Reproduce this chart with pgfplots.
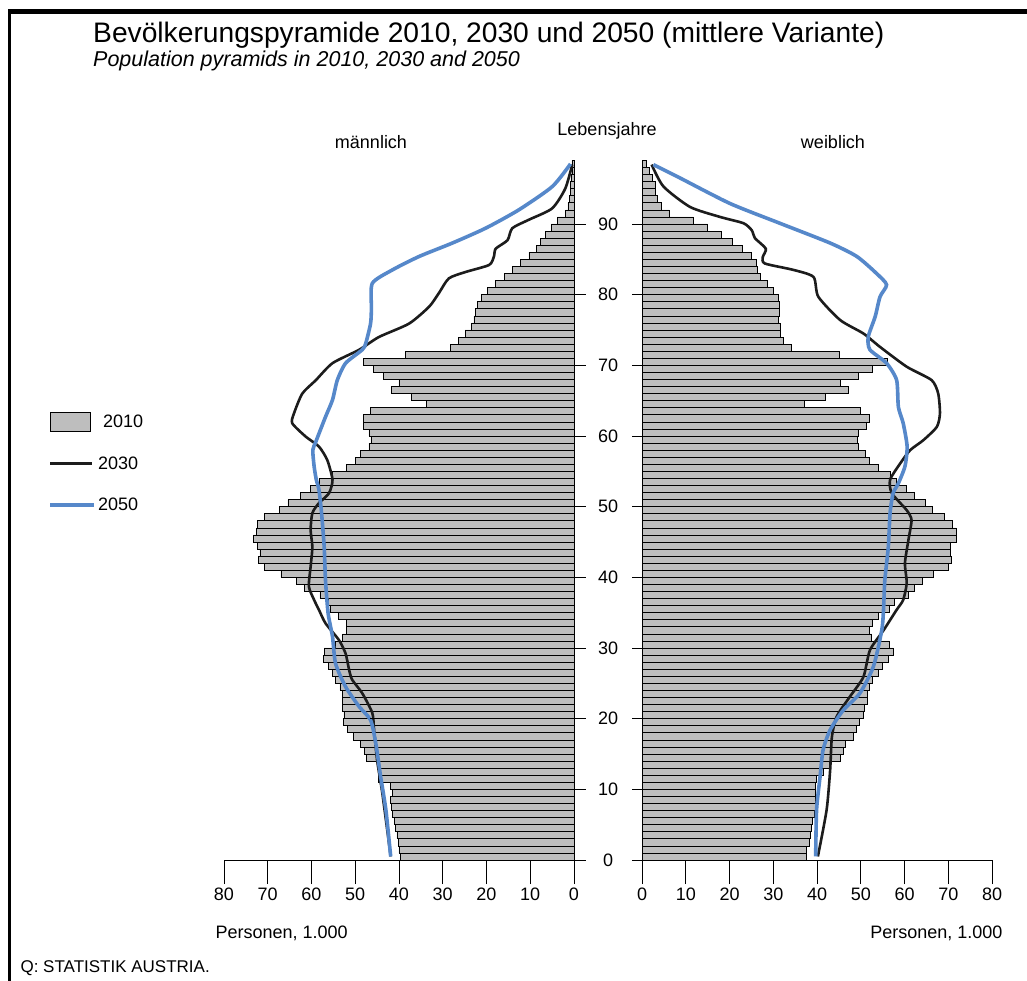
\documentclass[border=0pt]{standalone}
\usepackage{fontspec}
\setmainfont{Liberation Sans}
\usepackage{pgfplots}
\pgfplotsset{compat=1.18}
\usepackage{pgfplotstable}
\definecolor{barg}{RGB}{190,190,190}
\definecolor{lblue}{RGB}{86,136,202}
\definecolor{lblack}{RGB}{28,28,28}
\newcommand\lbl{\fontsize{18}{20}\selectfont}

\pgfplotstableread{
age m f
0.5 39.6 37.6
1.5 40.0 37.6
2.5 40.2 38.2
3.5 40.5 38.4
4.5 40.8 38.8
5.5 41.1 39.0
6.5 41.5 39.3
7.5 41.7 39.5
8.5 41.9 39.5
9.5 41.5 39.5
10.5 41.9 39.5
11.5 44.7 39.8
12.5 44.7 41.4
13.5 45.0 42.7
14.5 47.4 45.3
15.5 47.9 45.9
16.5 48.8 46.4
17.5 50.4 48.2
18.5 51.8 48.9
19.5 52.7 49.7
20.5 52.6 50.6
21.5 52.9 50.7
22.5 52.9 51.4
23.5 52.9 51.5
24.5 53.5 52.0
25.5 54.6 52.7
26.5 55.2 54.0
27.5 56.1 54.9
28.5 57.3 56.3
29.5 57.1 57.4
30.5 54.6 56.5
31.5 52.9 52.5
32.5 52.1 52.0
33.5 52.1 52.7
34.5 53.9 54.0
35.5 55.8 56.5
36.5 56.1 57.7
37.5 58.1 60.9
38.5 61.6 62.2
39.5 63.5 64.1
40.5 67.0 66.6
41.5 70.7 70.0
42.5 72.2 70.8
43.5 71.8 70.5
44.5 72.4 70.5
45.5 73.3 71.8
46.5 72.6 71.8
47.5 72.4 70.9
48.5 70.7 69.0
49.5 67.4 66.4
50.5 65.4 64.7
51.5 62.5 62.2
52.5 60.2 60.3
53.5 58.3 58.2
54.5 55.2 56.7
55.5 52.0 54.1
56.5 49.9 51.9
57.5 48.8 51.0
58.5 46.9 49.4
59.5 46.4 49.1
60.5 46.9 49.4
61.5 48.2 51.3
62.5 48.2 51.9
63.5 46.6 50.0
64.5 33.8 37.1
65.5 37.2 41.8
66.5 41.7 47.2
67.5 40.0 45.3
68.5 43.6 49.4
69.5 45.9 52.7
70.5 48.2 56.1
71.5 38.5 45.1
72.5 28.3 34.2
73.5 26.4 32.3
74.5 24.9 31.7
75.5 23.4 31.5
76.5 22.9 31.2
77.5 22.5 31.3
78.5 22.1 31.3
79.5 21.1 31.2
80.5 19.8 30.0
81.5 17.9 28.6
82.5 16.0 27.0
83.5 14.1 26.4
84.5 12.2 26.2
85.5 10.3 24.9
86.5 8.6 22.9
87.5 7.6 20.7
88.5 6.5 18.2
89.5 5.2 15.0
90.5 3.8 11.7
91.5 1.9 6.2
92.5 1.4 4.3
93.5 1.1 3.6
94.5 0.9 3.0
95.5 0.8 3.0
96.5 0.7 2.4
97.5 0.5 1.6
98.5 0.5 1.0
}\pyramid

\pgfplotsset{
  pyr/.style={
    scale only axis,
    height=706.7pt,
    ymin=0, ymax=100,
    xmax=80,
    axis x line*=bottom,
    axis y line=none,
    x axis line style={-, line width=0.8pt},
    xtick={0,10,...,80},
    tick align=outside,
    major tick length=24pt,
    xtick style={black, line width=0.8pt},
    ticklabel style={font=\lbl},
    /pgf/number format/assume math mode=true,
    clip=false,
  },
  bars/.style={xbar, bar width=1, bar shift=0pt, draw=black, line width=0.6pt, fill=barg},
  l30/.style={lblack, line width=2.6pt, smooth, tension=0.4},
  l50/.style={lblue, line width=3.6pt, smooth, tension=0.4},
}

\begin{document}
\begin{tikzpicture}[x=1pt,y=1pt]
\useasboundingbox (0,0) rectangle (1027,981);
\fill[white] (0,0) rectangle (1027,981);
\fill[black] (7.5,967) rectangle (1027,971.5);
\fill[black] (7.5,0) rectangle (11,971.5);

\node[anchor=base west, inner sep=0pt, font=\fontsize{28.2}{33}\selectfont] at (93,938) {Bevölkerungspyramide 2010, 2030 und 2050 (mittlere Variante)};
\node[anchor=base west, inner sep=0pt, font=\fontsize{21.5}{25}\selectfont\itshape] at (93,914) {Population pyramids in 2010, 2030 and 2050};
\node[anchor=base, font=\lbl] at (371,832) {männlich};
\node[anchor=base, font=\lbl] at (607,845) {Lebensjahre};
\node[anchor=base, font=\lbl] at (833,832) {weiblich};
\node[anchor=west, font=\lbl] at (212,48) {Personen, 1.000};
\node[anchor=east, font=\lbl] at (1006,48) {Personen, 1.000};
\node[anchor=west, font=\fontsize{17}{20}\selectfont] at (17,13) {Q: STATISTIK AUSTRIA.};

% male
\begin{axis}[pyr, at={(224pt,121pt)}, anchor=south west, width=360.9375pt,
  xmin=-2.5, x dir=reverse,
  legend style={at={(axis description cs:-0.487,0.634)}, anchor=north west,
    draw=none, fill=none, font=\lbl, row sep=23pt, inner sep=0pt,
    nodes={inner sep=2pt}},
  legend cell align=left]
\addplot[bars, legend image code/.code={\draw[draw=black,fill=barg,line width=0.7pt] (0pt,-9.5pt) rectangle (40pt,9.5pt);}]
  table[x=m, y=age] {\pyramid};
\addlegendentry{\hspace*{5pt}2010}
\addplot[l30, legend image code/.code={\draw[lblack, line width=3pt] (0pt,0pt) -- (42pt,0pt);}] coordinates {
(41.9,0.5) (43.8,9.4) (45.0,14.1) (45.7,18.4) (46.1,20.8) (48.4,23.6) (50.7,25.5)
(51.4,26.9) (52.2,29.2) (53.7,31.1) (56.8,33.5) (58.3,35.4) (59.4,36.8) (60.6,38.7)
(60.2,41.5) (59.8,44.3) (60.2,46.7) (59.8,49.1) (58.3,50.5) (56.0,51.9) (55.2,53.8)
(56.4,56.6) (58.3,58.5) (61.3,59.9) (64.4,61.8) (64.0,63.2) (62.1,66.0) (59.0,67.9)
(55.2,70.3) (49.1,72.2) (44.6,74.0) (37.7,75.9) (33.1,78.3) (30.9,80.2) (28.6,82.3)
(24.8,83.2) (19.4,84.2) (18.3,85.4) (17.9,86.5) (15.2,87.7) (14.1,89.4) (10.3,90.6)
(5.0,92.2) (2.0,95.0) (0.4,98.4)};
\addlegendentry{2030}
\addplot[l50, legend image code/.code={\draw[lblue, line width=3.6pt] (0pt,0pt) -- (44pt,0pt);}] coordinates {
(41.9,0.5) (43.0,7.1) (44.2,11.8) (45.3,16.5) (46.5,19.8) (49.1,21.7) (52.2,24.5)
(54.5,27.8) (55.2,31.6) (56.2,34.9) (56.8,39.6) (57.1,44.3) (57.7,49.1) (58.3,52.4)
(58.9,53.8) (59.4,55.7) (59.7,58.0) (59.0,59.2) (56.8,62.7) (55.2,65.1) (54.1,67.9)
(52.2,70.3) (48.4,72.2) (47.6,73.1) (46.5,75.9) (46.3,78.0) (46.1,81.6) (41.5,83.5)
(35.4,85.4) (27.8,87.3) (20.2,89.4) (12.6,92.0) (4.95,95.3) (0.8,98.5)};
\addlegendentry{2050}
\draw[line width=1.6pt] (axis cs:46.6,20) -- (axis cs:0,20);
\pgfplotsinvokeforeach{0,10,...,90}{\draw[line width=0.8pt] (axis cs:0,#1) -- (axis cs:-2.7,#1);}
\end{axis}

% female
\begin{axis}[pyr, at={(631.9375pt,121pt)}, anchor=south west, width=360.0625pt,
  xmin=-2.3]
\addplot[bars] table[x=f, y=age] {\pyramid};
\addplot[l30] coordinates {
(40.2,0.5) (42.2,7.1) (43.0,12.7) (43.4,17.4) (44.5,20.3) (47.5,23.1) (50.6,25.9)
(52.1,29.7) (55.2,32.5) (58.2,35.4) (59.7,36.8) (60.5,39.2) (60.1,42.0) (60.9,45.3)
(61.6,48.1) (60.5,49.5) (57.1,51.9) (56.7,53.8) (59.0,56.1) (61.3,58.0) (64.3,59.4)
(67.4,61.3) (68.1,63.2) (67.7,66.0) (66.2,67.9) (60.5,69.8) (54.4,72.6) (50.6,74.5)
(45.3,76.4) (40.3,79.7) (39.2,82.5) (34.6,83.5) (28.1,84.4) (27.6,85.3) (28.3,86.5)
(25.8,88.0) (25.1,89.1) (23.2,90.1) (17.8,91.0) (11.0,92.4) (4.9,95.3) (2.2,98.4)};
\addplot[l50] coordinates {
(39.7,0.5) (39.9,7.1) (40.7,11.8) (41.4,15.6) (43.0,18.4) (46.0,21.2) (49.8,23.6)
(52.9,27.4) (54.8,32.5) (55.2,35.4) (55.5,39.6) (56.3,44.3) (56.7,49.1) (57.4,51.9)
(58.6,53.3) (60.1,55.7) (60.6,58.5) (59.7,61.8) (58.6,64.1) (58.2,67.9) (55.9,70.3)
(52.1,72.2) (51.7,74.0) (53.3,76.9) (54.4,79.7) (55.9,81.4) (53.6,83.0) (49.1,85.4)
(43.0,87.3) (31.5,90.1) (20.1,92.9) (8.7,96.5) (2.6,98.4)};
\draw[line width=1.6pt] (axis cs:0,10) -- (axis cs:39.5,10);
\pgfplotsinvokeforeach{0,10,...,90}{
  \draw[line width=0.8pt] (axis cs:0,#1) -- (axis cs:-2.3,#1);
  \node[font=\lbl] at (axis cs:-7.77,#1) {#1};}
\end{axis}
\end{tikzpicture}
\end{document}
